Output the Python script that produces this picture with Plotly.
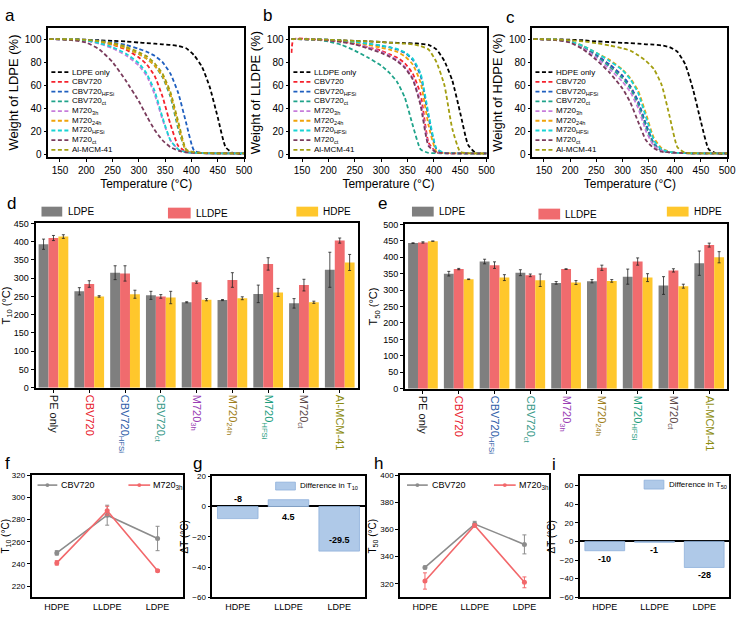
import plotly.graph_objects as go

W, H = 745, 618
FONT = "Arial, Liberation Sans, sans-serif"

# ---------------- TGA data (panels a-c) ----------------
TEMP = [130, 134, 175, 200, 225, 250, 275, 300, 315, 330, 345, 360, 375, 390, 405, 420, 435, 450, 465, 480, 500]
TGA_NAMES = ["CBV720", "CBV720<sub>HFSi</sub>", "CBV720<sub>ct</sub>", "M720<sub>3h</sub>", "M720<sub>24h</sub>",
             "M720<sub>HFSi</sub>", "M720<sub>ct</sub>", "Al-MCM-41"]
TGA_COLORS = ["#F5222D", "#1F5FBF", "#1FA38A", "#C77DDB", "#F0A30A", "#17D4D4", "#7A3B5C", "#A39E10"]

LDPE_ONLY = [100, 100, 99.8, 99.5, 99, 98.5, 98, 97, 96.5, 96, 95.5, 95, 94, 92, 86, 76, 58, 32, 6, 0.5, 0.3]
LDPE_CURVES = [
    [100, 100, 99.8, 99, 97.5, 95, 91, 84, 78, 68, 50, 26, 7, 2, 1, 0.8, 0.6, 0.5, 0.5, 0.5, 0.5],
    [100, 100, 99.8, 99.3, 98.5, 97, 95, 91.5, 89, 85.5, 80, 70, 53, 27, 3, 1, 0.8, 0.6, 0.5, 0.5, 0.5],
    [100, 100, 99.8, 99.2, 98, 96, 92.5, 87, 83, 77, 67, 50, 22, 3, 1.5, 1, 0.8, 0.6, 0.5, 0.5, 0.5],
    [100, 100, 99.5, 98.5, 96, 92, 86, 77, 68, 52, 30, 12, 4, 1.5, 1, 0.8, 0.6, 0.5, 0.5, 0.5, 0.5],
    [100, 100, 99.7, 99, 97.5, 95.5, 92, 87, 83, 77, 68, 52, 25, 3, 1.5, 1, 0.8, 0.6, 0.5, 0.5, 0.5],
    [100, 100, 99.6, 98.8, 96.5, 93, 87.5, 79, 70, 55, 32, 12, 4, 1.5, 1, 0.8, 0.6, 0.5, 0.5, 0.5, 0.5],
    [100, 100, 99, 97, 91, 80, 64, 46, 33, 21, 12, 6, 3, 1.5, 1, 0.8, 0.6, 0.5, 0.5, 0.5, 0.5],
    [100, 100, 99.8, 99.3, 98.3, 96.5, 93.5, 88.5, 85, 79, 70, 54, 28, 4, 1.5, 1, 0.8, 0.6, 0.5, 0.5, 0.5],
]
LLDPE_ONLY = [100, 100, 99.8, 99.5, 99, 98.5, 98, 97.5, 97, 96.8, 96.5, 96.3, 96, 95, 91, 81, 64, 36, 8, 0.8, 0.5]
LLDPE_CURVES = [
    [88, 100, 99.7, 99, 98, 96, 93, 90, 87, 84, 79, 70, 52, 10, 1.5, 0.8, 0.6, 0.5, 0.5, 0.5, 0.5],
    [100, 100, 99.8, 99.3, 98.5, 97.5, 96, 94, 93, 91, 88, 82, 68, 32, 4, 1, 0.8, 0.6, 0.5, 0.5, 0.5],
    [100, 100, 99.5, 98, 95, 90, 84, 77, 71, 63, 49, 25, 4, 1, 0.8, 0.6, 0.5, 0.5, 0.5, 0.5, 0.5],
    [100, 100, 99.7, 99, 98, 96, 93, 89, 86, 82, 76, 66, 45, 8, 1.5, 0.8, 0.6, 0.5, 0.5, 0.5, 0.5],
    [100, 100, 99.8, 99.2, 98.5, 97, 95, 92.5, 91, 89, 85, 78, 62, 25, 2, 1, 0.8, 0.6, 0.5, 0.5, 0.5],
    [100, 100, 99.8, 99.3, 98.7, 97.5, 96, 94.5, 93, 91.5, 88.5, 83, 70, 35, 5, 1, 0.8, 0.6, 0.5, 0.5, 0.5],
    [100, 100, 99.6, 98.8, 97.5, 95.5, 92, 88, 85, 81, 75, 65, 42, 7, 1.5, 0.8, 0.6, 0.5, 0.5, 0.5, 0.5],
    [100, 100, 99.8, 99.5, 99, 98.5, 98, 97.5, 97, 96.5, 96, 95.5, 94, 91, 80, 60, 22, 2, 0.8, 0.5, 0.5],
]
HDPE_ONLY = [100, 100, 99.8, 99.5, 99, 98, 97.5, 96.8, 96.5, 96, 95.5, 95.2, 94.5, 93, 89, 78, 56, 28, 4, 0.5, 0.3]
HDPE_CURVES = [
    [100, 100, 99.5, 98, 93, 86, 78, 68, 59, 45, 25, 9, 3, 1.5, 1, 0.8, 0.6, 0.5, 0.5, 0.5, 0.5],
    [100, 100, 99.5, 98, 93, 86, 78, 68, 59, 46, 26, 9, 3, 1.5, 1, 0.8, 0.6, 0.5, 0.5, 0.5, 0.5],
    [100, 100, 99.4, 97.8, 92.5, 85, 76, 66, 57, 43, 23, 8, 3, 1.5, 1, 0.8, 0.6, 0.5, 0.5, 0.5, 0.5],
    [100, 100, 99.3, 97.5, 92, 84, 74, 63, 54, 40, 20, 7, 3, 1.5, 1, 0.8, 0.6, 0.5, 0.5, 0.5, 0.5],
    [100, 100, 99.5, 98, 94, 88, 82, 73.5, 66, 55, 35, 14, 5, 2, 1, 0.8, 0.6, 0.5, 0.5, 0.5, 0.5],
    [100, 100, 99.5, 98, 94, 88, 81, 73, 65, 53, 32, 12, 4, 2, 1, 0.8, 0.6, 0.5, 0.5, 0.5, 0.5],
    [100, 100, 99, 97, 91, 82, 71, 57, 45, 28, 12, 5, 2, 1.5, 1, 0.8, 0.6, 0.5, 0.5, 0.5, 0.5],
    [100, 100, 99.6, 99, 98, 96.5, 94.5, 92, 90, 86, 81, 74, 60, 33, 6, 1, 0.8, 0.6, 0.5, 0.5, 0.5],
]

# ---------------- Bar data (panels d, e) ----------------
CAT_LABELS = ["PE only", "CBV720", "CBV720<sub>HFSi</sub>", "CBV720<sub>ct</sub>", "M720<sub>3h</sub>",
              "M720<sub>24h</sub>", "M720<sub>HFSi</sub>", "M720<sub>ct</sub>", "Al-MCM-41"]
CAT_COLORS = ["#111111", "#E8192C", "#2F5DA8", "#3A9A8A", "#9B3FB5", "#A08020", "#1E9E7E", "#5E4B4B", "#8C8C10"]
PE_TYPES = ["LDPE", "LLDPE", "HDPE"]
PE_COLORS = ["#7F7F7F", "#F06B6E", "#FFC72C"]

T10_LDPE = [393, 264, 315, 253, 234, 240, 257, 231, 323]
T10_LDPE_ERR = [14, 10, 19, 11, 1.5, 1.5, 24, 13, 48]
T10_LLDPE = [410, 284, 313, 250, 289, 295, 339, 281, 403]
T10_LLDPE_ERR = [7, 9, 21, 5, 3, 20, 17, 16, 7]
T10_HDPE = [414, 250, 256, 247, 241, 245, 261, 234, 343]
T10_HDPE_ERR = [5, 2, 11, 17, 3, 4, 11, 3, 22]

T50_LDPE = [443, 350, 387, 353, 322, 327, 341, 314, 382]
T50_LDPE_ERR = [1, 7, 7, 9, 4, 5, 23, 27, 37]
T50_LLDPE = [445, 364, 376, 345, 364, 368, 387, 360, 437]
T50_LLDPE_ERR = [2, 2, 10, 4, 1, 8, 11, 5, 6]
T50_HDPE = [449, 333, 338, 330, 323, 328, 338, 312, 400]
T50_HDPE_ERR = [0, 1, 9, 19, 6, 4, 12, 6, 17]

# ---------------- Panels f-i ----------------
PE_ORDER = ["HDPE", "LLDPE", "LDPE"]
F_CBV720 = [250, 284, 263]
F_CBV720_ERR = [2, 9, 11]
F_M720 = [241, 288, 234]
F_M720_ERR = [2, 4, 1]
G_DIFF = [-8, 4.5, -29.5]
H_CBV720 = [332, 364, 349]
H_CBV720_ERR = [1, 2, 7]
H_M720 = [322, 363, 321]
H_M720_ERR = [6, 1, 4]
I_DIFF = [-10, -1, -28]

GRAY_LINE = "#8C8C8C"
RED_LINE = "#F2686B"
DIFF_FILL = "#AFC9E8"
DIFF_EDGE = "#8EB0DA"


def dom(x0, y0, x1, y1):
    return [x0 / W, x1 / W], [1 - y1 / H, 1 - y0 / H]


def px(x):
    return x / W


def py(y):
    return 1 - y / H


def axis(**kw):
    base = dict(showline=True, linecolor="black", linewidth=1.8, mirror=True, ticks="outside",
                ticklen=3, tickwidth=1, tickcolor="black", showgrid=False, zeroline=False,
                tickfont=dict(size=10, color="black", family=FONT))
    base.update(kw)
    return base


fig = go.Figure()
layout = {}
shapes = []
annotations = []

# ---------- panels a, b, c ----------
tga_boxes = [(49, 23, 247, 155), (294, 23, 492.5, 155), (539, 23, 736, 155)]
tga_sets = [("LDPE", LDPE_ONLY, LDPE_CURVES), ("LLDPE", LLDPE_ONLY, LLDPE_CURVES), ("HDPE", HDPE_ONLY, HDPE_CURVES)]
DASH = "4px,2.5px"
for k, (box, (pe, only, curves)) in enumerate(zip(tga_boxes, tga_sets), start=1):
    xd, yd = dom(*box)
    xa, ya = ("x" if k == 1 else f"x{k}"), ("y" if k == 1 else f"y{k}")
    names = [f"{pe} only"] + TGA_NAMES
    colors = ["#000000"] + TGA_COLORS
    data = [only] + curves
    for nm, col, ys in zip(names, colors, data):
        fig.add_trace(go.Scatter(x=TEMP, y=ys, mode="lines", name=nm, showlegend=False,
                                 line=dict(color=col, width=1.8, dash=DASH, shape="spline", smoothing=0.5),
                                 xaxis=xa, yaxis=ya))
    layout[f"xaxis{k}"] = axis(domain=xd, anchor=ya, range=[128, 500], tickvals=list(range(150, 501, 50)),
                               title=dict(text="Temperature (°C)", font=dict(size=12, family=FONT, color="black"), standoff=4))
    layout[f"yaxis{k}"] = axis(domain=yd, anchor=xa, range=[-3, 110], tickvals=list(range(0, 101, 20)),
                               title=dict(text=f"Weight of {pe} (%)", font=dict(size=13, family=FONT, color="black"), standoff=3))
    # manual legend
    lx = box[0] + 3
    for i, (nm, col) in enumerate(zip(names, colors)):
        yy = 68.3 + i * 9.875
        shapes.append(dict(type="line", xref="paper", yref="paper", x0=px(lx), x1=px(lx + 18), y0=py(yy), y1=py(yy),
                           line=dict(color=col, width=1.8, dash=DASH)))
        annotations.append(dict(x=px(lx + 19), y=py(yy), xref="paper", yref="paper", text=nm, showarrow=False,
                                xanchor="left", yanchor="middle", font=dict(size=8, family=FONT, color="black")))

# ---------- panels d, e ----------
def cat_ticktext():
    return [f'<span style="color:{c}">{t}</span>' for t, c in zip(CAT_LABELS, CAT_COLORS)]


bar_sets = [
    (4, (36, 222, 362, 389), [T10_LDPE, T10_LLDPE, T10_HDPE], [T10_LDPE_ERR, T10_LLDPE_ERR, T10_HDPE_ERR],
     "T<sub>10</sub> (°C)", [0, 450], 50),
    (5, (410, 223, 736, 390), [T50_LDPE, T50_LLDPE, T50_HDPE], [T50_LDPE_ERR, T50_LLDPE_ERR, T50_HDPE_ERR],
     "T<sub>50</sub> (°C)", [0, 500], 50),
]
xs = list(range(len(CAT_LABELS)))
for k, box, vals, errs, ytitle, yr, dt in bar_sets:
    xd, yd = dom(*box)
    for pe, col, v, e in zip(PE_TYPES, PE_COLORS, vals, errs):
        fig.add_trace(go.Bar(x=xs, y=v, name=pe, marker=dict(color=col, line=dict(width=0)), showlegend=False,
                             error_y=dict(type="data", array=e, color="#222222", thickness=0.8, width=1.5),
                             xaxis=f"x{k}", yaxis=f"y{k}"))
    layout[f"xaxis{k}"] = axis(domain=xd, anchor=f"y{k}", range=[-0.5, 8.5], tickvals=xs, ticktext=cat_ticktext(),
                               tickangle=90, ticks="outside", ticklen=3,
                               tickfont=dict(size=11, family=FONT, color="black"))
    layout[f"yaxis{k}"] = axis(domain=yd, anchor=f"x{k}", range=yr, tickvals=list(range(yr[0], yr[1] + 1, dt)),
                               tickfont=dict(size=9, family=FONT, color="black"),
                               title=dict(text=ytitle, font=dict(size=11, family=FONT, color="black"), standoff=3))

# legends for d, e
leg_d = [((42, 205, 63, 215), 67, 210), ((170, 206, 193, 217), 196, 212), ((300, 205, 322, 215), 325, 210)]
leg_e = [((417, 205, 439, 215), 442, 210), ((545, 207, 567, 218), 570, 213), ((675, 205, 697, 215), 700, 210)]
for leg in (leg_d, leg_e):
    for (b, tx, ty), pe, col in zip(leg, PE_TYPES, PE_COLORS):
        shapes.append(dict(type="rect", xref="paper", yref="paper", x0=px(b[0]), x1=px(b[2]), y0=py(b[3]), y1=py(b[1]),
                           fillcolor=col, line=dict(width=0)))
        annotations.append(dict(x=px(tx), y=py(ty), xref="paper", yref="paper", text=pe, showarrow=False,
                                xanchor="left", yanchor="middle", font=dict(size=10, family=FONT, color="black")))

# ---------- panels f, h (line) ----------
line_sets = [
    (6, (32, 478, 185, 602), F_CBV720, F_CBV720_ERR, F_M720, F_M720_ERR, "T<sub>10</sub> (°C)", [210, 320], 220, 20),
    (8, (405, 478, 556, 602), H_CBV720, H_CBV720_ERR, H_M720, H_M720_ERR, "T<sub>50</sub> (°C)", [310, 400], 320, 20),
]
for k, box, cv, ce, mv, me, ytitle, yr, t0, dt in line_sets:
    xd, yd = dom(*box)
    for v, e, col, nm in ((cv, ce, GRAY_LINE, "CBV720"), (mv, me, RED_LINE, "M720<sub>3h</sub>")):
        fig.add_trace(go.Scatter(x=[0, 1, 2], y=v, mode="lines+markers", name=nm, showlegend=False,
                                 line=dict(color=col, width=1.6), marker=dict(color=col, size=5),
                                 error_y=dict(type="data", array=e, color=col, thickness=1, width=2),
                                 xaxis=f"x{k}", yaxis=f"y{k}"))
    layout[f"xaxis{k}"] = axis(domain=xd, anchor=f"y{k}", range=[-0.5, 2.5], tickvals=[0, 1, 2], ticktext=PE_ORDER,
                               ticks="", tickfont=dict(size=9, family=FONT, color="black"))
    layout[f"yaxis{k}"] = axis(domain=yd, anchor=f"x{k}", range=yr, tickvals=list(range(t0, yr[1] + 1, dt)),
                               tickfont=dict(size=8, family=FONT, color="black"),
                               title=dict(text=ytitle, font=dict(size=10, family=FONT, color="black"), standoff=2))

for (x0, y0), items in (((38, 488), [(38, 58, 60, GRAY_LINE, "CBV720"), (130, 152, 153, RED_LINE, "M720<sub>3h</sub>")]),
                        ((412, 488), [(412, 433, 435, GRAY_LINE, "CBV720"), (500, 522, 523, RED_LINE, "M720<sub>3h</sub>")])):
    for a, b, t, col, nm in items:
        shapes.append(dict(type="line", xref="paper", yref="paper", x0=px(a), x1=px(b), y0=py(y0), y1=py(y0),
                           line=dict(color=col, width=1.6)))
        m = (a + b) / 2
        shapes.append(dict(type="circle", xref="paper", yref="paper", x0=px(m - 2), x1=px(m + 2), y0=py(y0 + 2),
                           y1=py(y0 - 2), fillcolor=col, line=dict(width=0)))
        annotations.append(dict(x=px(t), y=py(y0), xref="paper", yref="paper", text=nm, showarrow=False,
                                xanchor="left", yanchor="middle", font=dict(size=9, family=FONT, color="black")))

# ---------- panels g, i (difference bars) ----------
diff_sets = [
    (7, (215, 479, 369, 602), G_DIFF, [-60, 20], -60, "T<sub>10</sub>",
     [("bottom", 0, 0), ("top", 0, -4), ("bottom", None, 4)], (279, 485, 299, 493)),
    (9, (587, 479, 738, 602), I_DIFF, [-60, 70], -60, "T<sub>50</sub>",
     [("top", None, -1), ("top", None, -1), ("top", None, -1)], (652, 483, 672, 492)),
]
for k, box, vals, yr, t0, sub, lab, lbox in diff_sets:
    xd, yd = dom(*box)
    fig.add_trace(go.Bar(x=[0, 1, 2], y=vals, width=0.8, showlegend=False,
                         marker=dict(color=DIFF_FILL, line=dict(color=DIFF_EDGE, width=0.8)),
                         xaxis=f"x{k}", yaxis=f"y{k}"))
    layout[f"xaxis{k}"] = axis(domain=xd, anchor=f"y{k}", range=[-0.5, 2.5], tickvals=[0, 1, 2], ticktext=PE_ORDER,
                               ticks="", tickfont=dict(size=9, family=FONT, color="black"))
    layout[f"yaxis{k}"] = axis(domain=yd, anchor=f"x{k}", range=yr, tickvals=list(range(t0, yr[1] + 1, 20)),
                               zeroline=True, zerolinecolor="black", zerolinewidth=1.5,
                               tickfont=dict(size=8, family=FONT, color="black"),
                               title=dict(text="ΔT (°C)", font=dict(size=10, family=FONT, color="black"), standoff=2))
    for i, (v, (anc, yref_val, shift)) in enumerate(zip(vals, lab)):
        yv = v if yref_val is None else yref_val
        annotations.append(dict(x=i, y=yv, xref=f"x{k}", yref=f"y{k}", text=f"<b>{v:g}</b>", showarrow=False,
                                yanchor=anc, yshift=shift, font=dict(size=9, family=FONT, color="black")))
    shapes.append(dict(type="rect", xref="paper", yref="paper", x0=px(lbox[0]), x1=px(lbox[2]), y0=py(lbox[3]),
                       y1=py(lbox[1]), fillcolor=DIFF_FILL, line=dict(color=DIFF_EDGE, width=0.8)))
    annotations.append(dict(x=px(lbox[2] + 3), y=py((lbox[1] + lbox[3]) / 2), xref="paper", yref="paper",
                            text=f"Difference in {sub}", showarrow=False, xanchor="left", yanchor="middle",
                            font=dict(size=8, family=FONT, color="black")))

# ---------- panel letters ----------
for letter, x, y in [("a", 3, -1), ("b", 264, -1), ("c", 510, 1), ("d", 5, 190), ("e", 381, 190),
                     ("f", 3, 454), ("g", 193, 454), ("h", 377, 454), ("i", 557, 455)]:
    annotations.append(dict(x=px(x), y=py(y), xref="paper", yref="paper", text=letter, showarrow=False,
                            xanchor="left", yanchor="top", font=dict(size=17, family=FONT, color="black")))

layout["xaxis"] = layout.pop("xaxis1")
layout["yaxis"] = layout.pop("yaxis1")
fig.update_layout(**layout)
fig.update_layout(width=W, height=H, margin=dict(l=0, r=0, t=0, b=0), paper_bgcolor="white", plot_bgcolor="white",
                  barmode="group", bargap=0.17, bargroupgap=0, shapes=shapes, annotations=annotations,
                  font=dict(family=FONT, color="black"), showlegend=False)

fig.write_html("out.html", config={"displayModeBar": False},
               post_script="document.body.style.margin='0';")
